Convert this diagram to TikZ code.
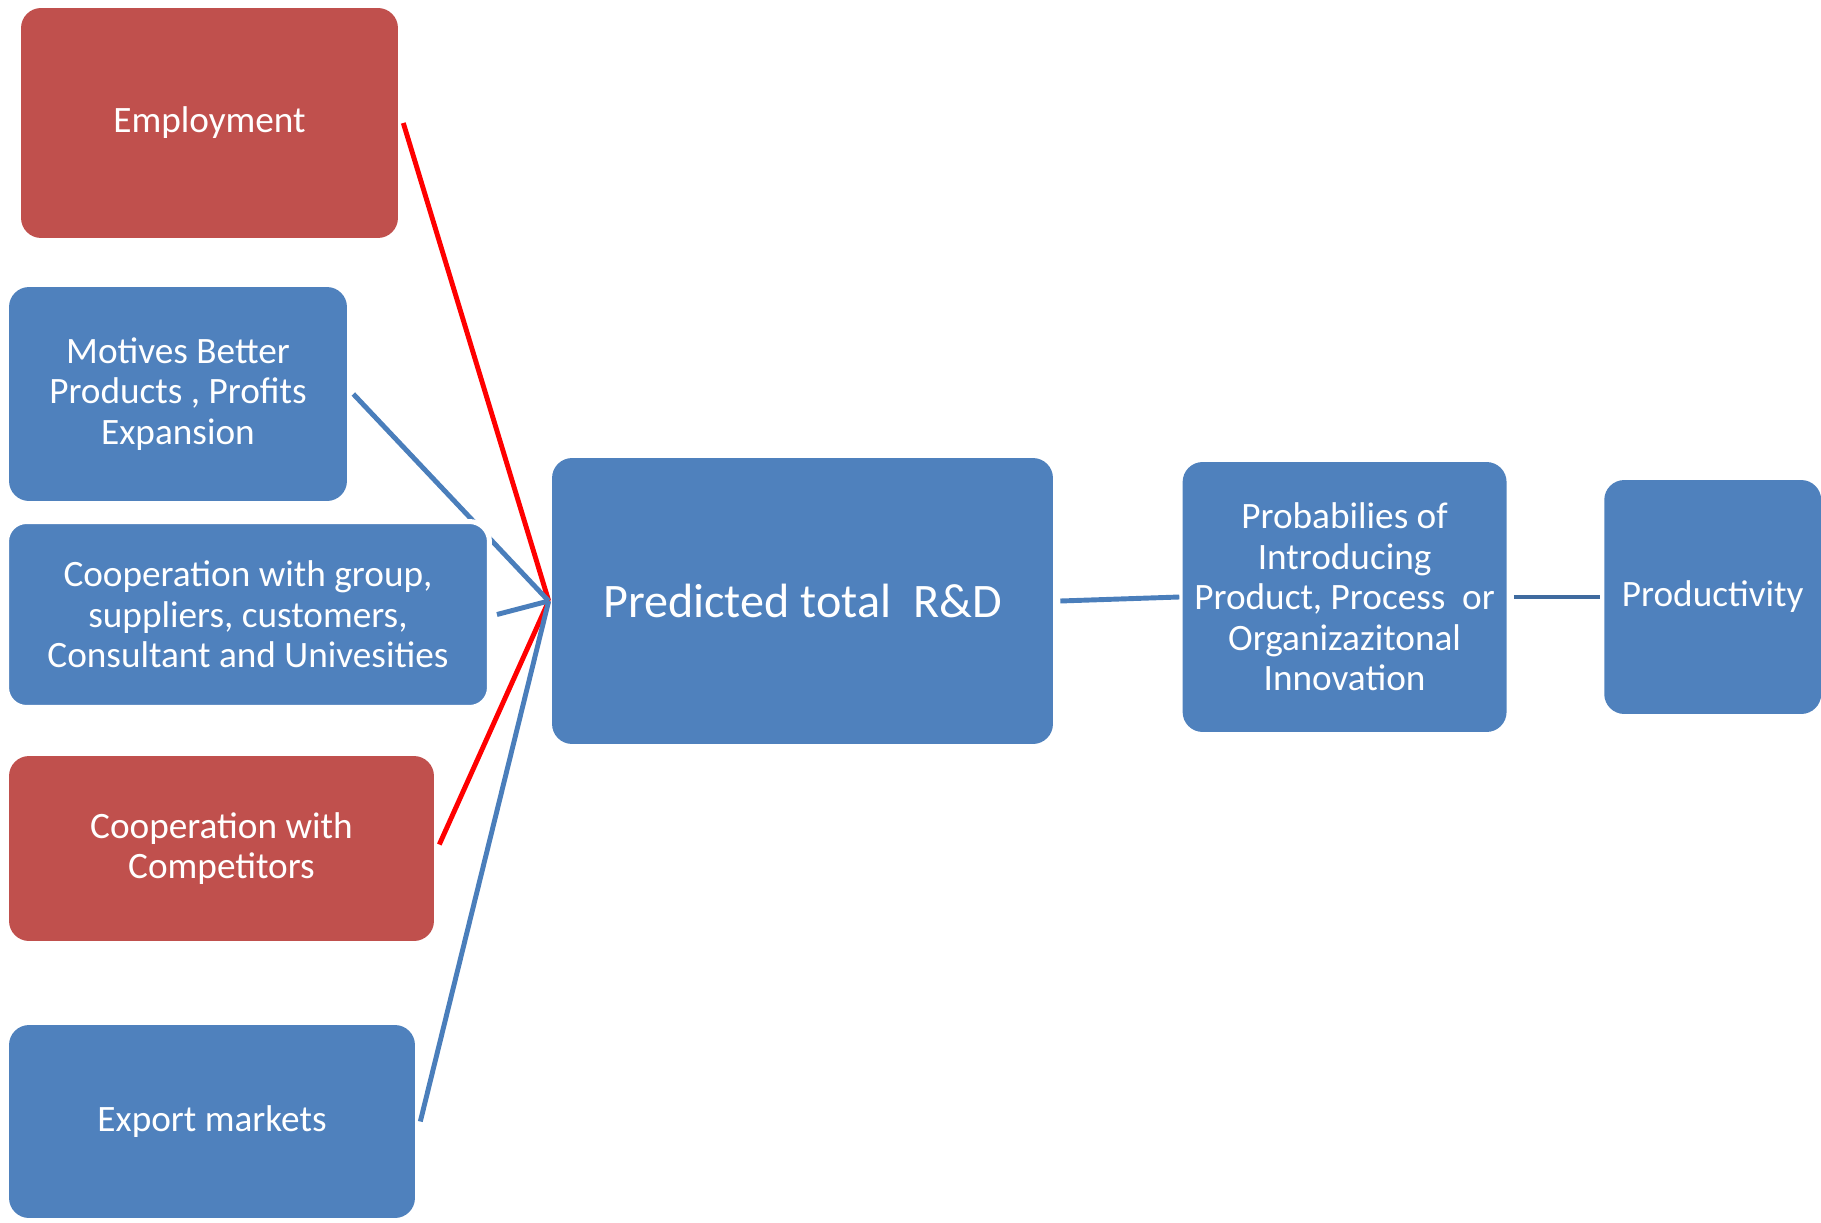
\documentclass[tikz,border=0pt]{standalone}
\usepackage{fontspec}
\setmainfont{Carlito}
\usetikzlibrary{positioning}
\definecolor{boxblue}{HTML}{4F81BD}
\definecolor{boxred}{HTML}{C0504D}
\definecolor{lineblue}{HTML}{4A7EBB}
\definecolor{linered}{HTML}{FF0000}
\tikzset{
  card/.style={rounded corners=0.4cm, inner sep=0pt, align=center, text=white, font=\fontsize{21.2}{23}\selectfont},
  bluecard/.style={card, fill=boxblue},
  redcard/.style={card, fill=boxred},
  link/.style={line width=2.8pt, draw=lineblue},
  redlink/.style={line width=2.8pt, draw=linered}
}

\begin{document}
\begin{tikzpicture}[x=0.02cm, y=-0.02cm]
  \useasboundingbox (0,0) rectangle (1821,1223);

  % left column
  \node[redcard, minimum width=7.54cm, minimum height=4.6cm] (emp) at (209.5,123) {Employment};
  \node[bluecard, minimum width=6.76cm, minimum height=4.28cm] (mot) at (178,394) {Motives Better\\Products , Profits\\Expansion};
  \node[redcard, minimum width=8.5cm, minimum height=3.7cm] (comp) at (221.5,848.5) {Cooperation with\\Competitors};
  \node[bluecard, minimum width=8.12cm, minimum height=3.86cm] (exp) at (212,1121.5) {Export markets};

  % chain on the right
  \node[bluecard, minimum width=10.02cm, minimum height=5.72cm, font=\fontsize{27.4}{32}\selectfont] (rd) at (802.5,601) {Predicted total\ \ R\&D};
  \node[bluecard, minimum width=6.48cm, minimum height=5.4cm, right=2.58cm of rd, yshift=0.08cm] (prob) {Probabilies of\\Introducing\\Product, Process\ \ or\\Organizazitonal\\Innovation};
  \node[bluecard, minimum width=4.34cm, minimum height=4.68cm, right=1.94cm of prob] (prod) {Productivity};

  \coordinate (hub) at ([xshift=-0.6mm]rd.west);

  \draw[redlink] ([xshift=1mm]emp.east) -- (hub);
  \draw[link] ([xshift=1.2mm]mot.east) -- (hub);
  \draw[redlink] ([xshift=1mm,yshift=0.8mm]comp.east) -- (hub);
  \draw[link] ([xshift=1mm]exp.east) -- (hub);

  % group box sits over the motives line, white rim cuts it
  \node[bluecard, draw=white, line width=0.1cm, minimum width=9.66cm, minimum height=3.72cm] (grp) at (248,614.5) {Cooperation with group,\\suppliers, customers,\\Consultant and Univesities};
  \draw[link] ([xshift=1mm]grp.east) -- (hub);

  \draw[link] ([xshift=1.4mm]rd.east) -- ([xshift=-0.6mm]prob.west);
  \draw[link, draw=lineblue!85!black] ([xshift=1.4mm]prob.east) -- ([xshift=-0.8mm]prod.west);
\end{tikzpicture}
\end{document}
